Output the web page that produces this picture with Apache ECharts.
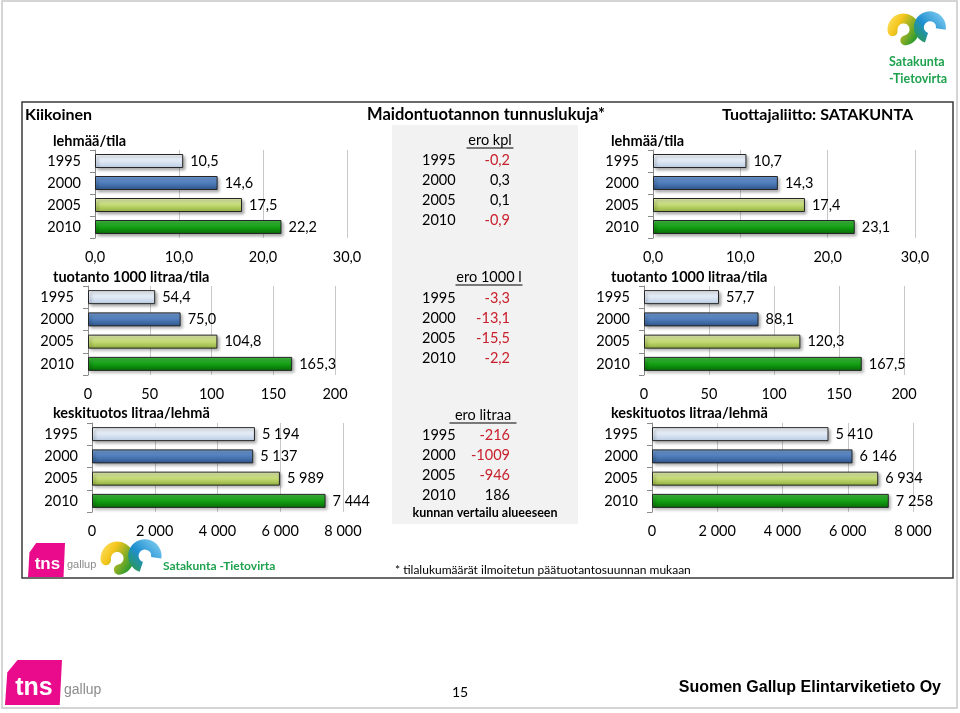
<!DOCTYPE html>
<html><head><meta charset="utf-8">
<script src="https://cdn.jsdelivr.net/npm/echarts@6/dist/echarts.min.js"></script>
<style>html,body{margin:0;padding:0;background:#fff}#c{width:960px;height:713px}</style>
</head><body><div id="c"></div><script>
// ---------- DATA ----------
const years = ['1995', '2000', '2005', '2010'];
const panelTitles = ['lehmää/tila', 'tuotanto 1000 litraa/tila', 'keskituotos litraa/lehmä'];
const kiikoinenCows = [10.5, 14.6, 17.5, 22.2];
const kiikoinenProd = [54.4, 75.0, 104.8, 165.3];
const kiikoinenYield = [5194, 5137, 5989, 7444];
const satakuntaCows = [10.7, 14.3, 17.4, 23.1];
const satakuntaProd = [57.7, 88.1, 120.3, 167.5];
const satakuntaYield = [5410, 6146, 6934, 7258];
const cowsTicks = [0, 10, 20, 30];
const prodTicks = [0, 50, 100, 150, 200];
const yieldTicks = [0, 2000, 4000, 6000, 8000];
const diffHeaders = ['ero kpl', 'ero 1000 l', 'ero litraa'];
const diffCows = [-0.2, 0.3, 0.1, -0.9];
const diffProd = [-3.3, -13.1, -15.5, -2.2];
const diffYield = [-216, -1009, -946, 186];

// ---------- FORMAT ----------
const fmt1 = v => v.toFixed(1).replace('.', ',');
const fmtInt = v => String(v);
const fmtThou = v => String(v).replace(/\B(?=(\d{3})+(?!\d))/g, ' ');

const FONT = 'Lato, "Open Sans", sans-serif';
const barGrad = [
  ['#f6f9fe', '#dde7f4', '#b8cae2'],
  ['#76a0d8', '#4b79b6', '#2d5388'],
  ['#e4efb4', '#bfd76e', '#90ad3c'],
  ['#45bf45', '#119c11', '#086a08']
].map(c => ({type: 'linear', x: 0, y: 0, x2: 0, y2: 1,
  colorStops: [{offset: 0, color: c[0]}, {offset: 0.55, color: c[1]}, {offset: 1, color: c[2]}]}));

const layout = [
  {left: 95, width: 252, top: 150, height: 88, data: kiikoinenCows, ticks: cowsTicks, axisFmt: fmt1, labFmt: fmt1},
  {left: 88, width: 247, top: 286, height: 89, data: kiikoinenProd, ticks: prodTicks, axisFmt: fmtInt, labFmt: fmt1},
  {left: 92, width: 251, top: 423, height: 89, data: kiikoinenYield, ticks: yieldTicks, axisFmt: fmtThou, labFmt: fmtThou},
  {left: 653, width: 262, top: 150, height: 88, data: satakuntaCows, ticks: cowsTicks, axisFmt: fmt1, labFmt: fmt1},
  {left: 644, width: 260, top: 286, height: 89, data: satakuntaProd, ticks: prodTicks, axisFmt: fmtInt, labFmt: fmt1},
  {left: 652, width: 261, top: 423, height: 89, data: satakuntaYield, ticks: yieldTicks, axisFmt: fmtThou, labFmt: fmtThou}
];

const grids = [], xAxes = [], yAxes = [], series = [];
layout.forEach((p, i) => {
  grids.push({left: p.left, width: p.width, top: p.top, height: p.height});
  xAxes.push({type: 'value', gridIndex: i, min: p.ticks[0], max: p.ticks[p.ticks.length - 1],
    interval: p.ticks[1] - p.ticks[0],
    axisLine: {show: false}, axisTick: {show: false},
    splitLine: {lineStyle: {color: '#c8c8c8', width: 1}},
    axisLabel: {formatter: p.axisFmt, fontFamily: FONT, fontSize: 14.5, color: '#000', margin: 12,
      showMinLabel: true, showMaxLabel: true}});
  yAxes.push({type: 'category', gridIndex: i, data: years, inverse: true,
    axisLine: {lineStyle: {color: '#8a8a8a'}},
    axisTick: {show: true, length: 5, lineStyle: {color: '#8a8a8a'}},
    axisLabel: {fontFamily: FONT, fontSize: 14.5, color: '#000', margin: 14}});
  series.push({type: 'bar', xAxisIndex: i, yAxisIndex: i, barWidth: 14,
    data: p.data.map((v, k) => ({value: v, itemStyle: {color: barGrad[k]}})),
    itemStyle: {borderColor: '#262626', borderWidth: 1,
      shadowColor: 'rgba(0,0,0,0.35)', shadowBlur: 3, shadowOffsetX: 2, shadowOffsetY: 2},
    label: {show: true, position: 'right', distance: 7, fontFamily: FONT, fontSize: 14.5, color: '#000',
      formatter: q => p.labFmt(q.value)},
    silent: true, animation: false});
});

// ---------- GRAPHIC ----------
const g = [];
function txt(text, x, y, o) {
  o = o || {};
  g.push({type: 'text', x: x, y: y, z: 10, style: {text: text, fill: o.fill || '#000',
    font: o.font || ('14.5px ' + FONT), align: o.align || 'left', textAlign: o.align || 'left',
    verticalAlign: 'middle', textVerticalAlign: 'middle'}});
}
// slide border and box frame
g.push({type: 'rect', shape: {x: 2, y: 1, width: 955, height: 707}, style: {fill: 'none', stroke: '#c8c8c8', lineWidth: 1.5}});
g.push({type: 'rect', shape: {x: 22, y: 102, width: 931, height: 476}, style: {fill: 'none', stroke: '#3a3a3a', lineWidth: 1.5}});
// middle grey panel
g.push({type: 'rect', z: -1, shape: {x: 392, y: 125, width: 186, height: 399}, style: {fill: '#f2f2f2'}});

txt('Kiikoinen', 25, 115, {font: 'bold 16px ' + FONT});
txt('Maidontuotannon tunnuslukuja*', 367, 115, {font: 'bold 16.5px ' + FONT});
txt('Tuottajaliitto: SATAKUNTA', 913, 115, {font: 'bold 16px ' + FONT, align: 'right'});

// panel titles
const titleY = [141, 277, 413];
panelTitles.forEach((t, i) => {
  txt(t, 53, titleY[i], {font: 'bold 14.5px ' + FONT});
  txt(t, 611, titleY[i], {font: 'bold 14.5px ' + FONT});
});

// middle table
const blocks = [
  {head: diffHeaders[0], hy: 140, rows: [160, 180, 200, 220], vals: diffCows, f: fmt1, hx: 490},
  {head: diffHeaders[1], hy: 277, rows: [298, 318, 338, 358], vals: diffProd, f: fmt1, hx: 489},
  {head: diffHeaders[2], hy: 415, rows: [435, 455, 475, 495], vals: diffYield, f: fmtInt, hx: 483}
];
blocks.forEach(b => {
  txt(b.head, b.hx, b.hy, {align: 'center'});
  const est = b.head.length * 6.7;
  g.push({type: 'line', z: 10, shape: {x1: b.hx - est / 2, y1: b.hy + 8, x2: b.hx + est / 2, y2: b.hy + 8},
    style: {stroke: '#000', lineWidth: 1}});
  years.forEach((yr, k) => {
    txt(yr, 422, b.rows[k]);
    txt(b.f(b.vals[k]), 510, b.rows[k], {align: 'right', fill: b.vals[k] < 0 ? '#c8202c' : '#000'});
  });
});
txt('kunnan vertailu alueeseen', 485, 513, {font: 'bold 12.5px ' + FONT, align: 'center'});
txt('* tilalukumäärät ilmoitetun päätuotantosuunnan mukaan', 395, 570, {font: '12px ' + FONT});

// swirl logo helper: two upward humps (yellow left, blue right) joined by green
function swirl(x0, y0, s) {
  g.push({type: 'arc', z: 10, shape: {cx: x0 + 15 * s, cy: y0 + 15 * s, r: 10 * s, startAngle: Math.PI * 0.95, endAngle: Math.PI * 2.45, clockwise: true},
    style: {fill: 'none', lineWidth: 9 * s, lineCap: 'round', stroke: {type: 'linear', x: 0, y: 0, x2: 1, y2: 0.6,
      colorStops: [{offset: 0, color: '#ffe770'}, {offset: 0.4, color: '#f4c51c'}, {offset: 1, color: '#2a9a2e'}]}}});
  g.push({type: 'arc', z: 11, shape: {cx: x0 + 39 * s, cy: y0 + 13 * s, r: 10 * s, startAngle: Math.PI * 0.6, endAngle: Math.PI * 2.05, clockwise: true},
    style: {fill: 'none', lineWidth: 9 * s, stroke: {type: 'linear', x: 0, y: 1, x2: 1, y2: 0,
      colorStops: [{offset: 0, color: '#2c9a34'}, {offset: 0.45, color: '#1f8fd0'}, {offset: 1, color: '#8fd6f6'}]}}});
}
swirl(100, 541, 1.15);
swirl(887, 13, 1.1);
txt('Satakunta -Tietovirta', 163, 566, {font: 'bold 12px ' + FONT, fill: '#1ea24e'});
txt('Satakunta', 889, 62, {font: 'bold 12.5px ' + FONT, fill: '#1ea24e'});
txt('-Tietovirta', 889, 79, {font: 'bold 12.5px ' + FONT, fill: '#1ea24e'});

// tns logos
function tns(x0, y0, w, h, fs, gfs) {
  g.push({type: 'polygon', z: 10, shape: {points: [[x0 + w * 0.22, y0], [x0 + w, y0], [x0 + w * 0.96, y0 + h], [x0, y0 + h], [x0 + w * 0.04, y0 + h * 0.28]]},
    style: {fill: '#ea0a8c'}});
  txt('tns', x0 + w * 0.18, y0 + h * 0.63, {font: 'bold ' + fs + 'px "Liberation Sans", Arial, sans-serif', fill: '#fff'});
  txt('gallup', x0 + w + 2, y0 + h * 0.66, {font: gfs + 'px "Liberation Sans Narrow", "Liberation Sans", sans-serif', fill: '#8c8c8c'});
}
tns(28, 543, 37, 34, 17, 11);
tns(5, 660, 57, 45, 25, 14);

txt('15', 460, 692, {font: '14px ' + FONT, align: 'center'});
txt('Suomen Gallup Elintarviketieto Oy', 941, 688, {font: 'bold 16px "Liberation Sans", Arial, sans-serif', align: 'right'});

const chart = echarts.init(document.getElementById('c'), null, {renderer: 'canvas'});
chart.setOption({animation: false, backgroundColor: '#fff', grid: grids, xAxis: xAxes, yAxis: yAxes, series: series, graphic: g});
</script></body></html>
